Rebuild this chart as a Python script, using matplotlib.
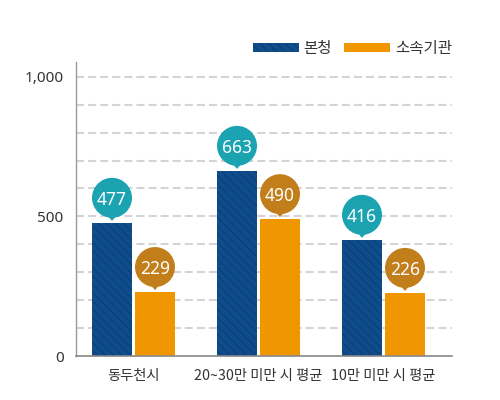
import matplotlib
matplotlib.use('Agg')
import matplotlib.pyplot as plt
import matplotlib.transforms as mtransforms
from matplotlib.patches import Circle, Polygon
import numpy as np

plt.rcParams['font.family'] = ['Noto Sans CJK KR', 'DejaVu Sans']
plt.rcParams['lines.scale_dashes'] = False
plt.rcParams['hatch.linewidth'] = 0.7

# 데이터
categories = ['동두천시', '20~30만 미만 시 평균', '10만 미만 시 평균']
series_names = ['본청', '소속기관']
bonchung = [477, 663, 416]
sosok = [229, 490, 226]
grid_values = [100, 200, 300, 400, 500, 600, 700, 800, 900, 1000]
tick_values = [0, 500, 1000]

bar_colors = ['#0f4c8a', '#ef9600']
hatch_color = '#0a3e74'
bubble_colors = ['#1ba3b1', '#c27e1b']

fig = plt.figure(figsize=(5, 4), dpi=100)
ax = fig.add_axes([0.152, 0.11, 0.752, 0.735])

x = np.arange(len(categories))
w = 0.32
gap = 0.024

for gv in grid_values:
    ax.axhline(gv, color='#d4d4d4', lw=1.5, dashes=(5.8, 2.9), zorder=0)

b1 = ax.bar(x - (w + gap) / 2, bonchung, w, color=bar_colors[0], edgecolor=hatch_color,
            linewidth=0, hatch='\\\\\\\\', zorder=2, label=series_names[0])
b2 = ax.bar(x + (w + gap) / 2, sosok, w, color=bar_colors[1], linewidth=0,
            zorder=2, label=series_names[1])

# 말풍선 라벨
def bubble(xv, yv, color):
    tr = fig.dpi_scale_trans + mtransforms.ScaledTranslation(xv, yv, ax.transData)
    ax.add_patch(Circle((0, 0.25), 0.2, transform=tr, color=color, clip_on=False, zorder=4, lw=0))
    ax.add_patch(Polygon([(-0.07, 0.1), (0.07, 0.1), (0, 0.02)], closed=True, transform=tr,
                         color=color, clip_on=False, zorder=4, lw=0))
    ttr = mtransforms.offset_copy(ax.transData, fig=fig, x=0, y=25, units='dots')
    ax.text(xv, yv, f'{yv}', transform=ttr, ha='center', va='center_baseline',
            color='white', fontsize=12.5, zorder=5, family=['Noto Sans', 'DejaVu Sans'])

for rect, v in zip(b1, bonchung):
    bubble(rect.get_x() + rect.get_width() / 2, v, bubble_colors[0])
for rect, v in zip(b2, sosok):
    bubble(rect.get_x() + rect.get_width() / 2, v, bubble_colors[1])

ax.set_xlim(-0.46, 2.548)
ax.set_ylim(0, 1053)
ax.set_xticks(x)
ax.set_xticklabels(categories, fontsize=10.3, color='#333333')
ax.set_yticks(tick_values)
ax.set_yticklabels([f'{t:,}' for t in tick_values], fontsize=11, color='#333333',
                   family=['Noto Sans', 'DejaVu Sans'])
ax.tick_params(axis='both', length=0)
ax.tick_params(axis='y', pad=9)
ax.tick_params(axis='x', pad=9.5)

for s in ['top', 'right']:
    ax.spines[s].set_visible(False)
ax.spines['left'].set_color('#999999')
ax.spines['left'].set_linewidth(1)
ax.spines['bottom'].set_color('#888888')
ax.spines['bottom'].set_linewidth(1.2)

leg = fig.legend(handles=[b1, b2], labels=series_names, loc='upper right',
                 bbox_to_anchor=(452 / 500, 1 - 40 / 400), ncol=2, frameon=False,
                 fontsize=11.2, handlelength=2.95, handleheight=0.6, handletextpad=0.3,
                 columnspacing=0.8, borderpad=0, borderaxespad=0)
for t in leg.get_texts():
    t.set_color('#333333')

fig.savefig('out.png', dpi=100)
